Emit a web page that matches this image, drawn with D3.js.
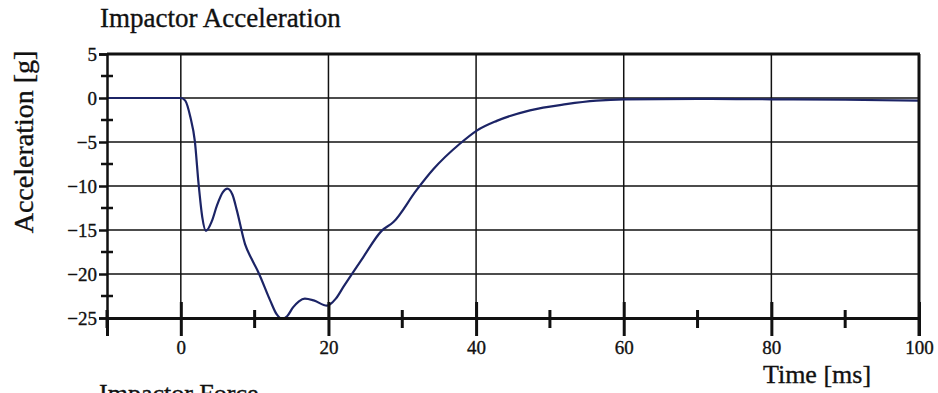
<!DOCTYPE html>
<html><head><meta charset="utf-8">
<script src="https://cdn.jsdelivr.net/npm/d3@7"></script>
<style>
html,body{margin:0;padding:0;background:#fff;}
svg{display:block;}
text{font-family:"Liberation Serif","Times New Roman",serif;fill:#111;stroke:#111;stroke-width:0.35px;}
</style></head>
<body>
<svg id="chart" width="938" height="393"></svg>
<script>
const timeMs = [-10, -5, 0, 0.6, 1.3, 1.9, 2.4, 2.9, 3.4, 4.2, 4.9, 5.7, 6.3, 7.0, 7.6, 8.7, 9.6, 10.5, 12.1, 13.0, 13.7, 14.4, 15.2, 16.0, 16.8, 18.0, 19.8, 21.0, 22.0, 24.7, 27.2, 28.8, 31.9, 34.2, 37.8, 40.1, 42.8, 47.3, 52.2, 56.3, 60, 70, 80, 90, 100];
const accelG = [0, 0, 0, -0.3, -2.2, -4.9, -9.7, -13.5, -15.1, -14.0, -12.2, -10.7, -10.3, -11.0, -12.8, -16.6, -18.3, -19.8, -23.0, -24.6, -25.1, -24.8, -23.8, -23.1, -22.8, -23.0, -23.6, -22.8, -21.5, -18.1, -15.1, -14.1, -10.5, -8.1, -5.2, -3.7, -2.6, -1.4, -0.7, -0.3, -0.15, -0.1, -0.15, -0.2, -0.3];
const yTickValues = [5, 0, -5, -10, -15, -20, -25];
const yMinorValues = [2.5, -2.5, -7.5, -12.5, -17.5, -22.5];
const xTickValues = [0, 20, 40, 60, 80, 100];
const xMinorValues = [-10, 10, 30, 50, 70, 90];
const titleText = "Impactor Acceleration";
const yLabelText = "Acceleration [g]";
const xLabelText = "Time [ms]";
const nextTitleText = "Impactor Force";

const svg = d3.select("#chart");
const x = d3.scaleLinear().domain([-10, 100]).range([107, 919]);
const y = d3.scaleLinear().domain([-25, 5]).range([318, 54]);

// horizontal grid
svg.append("g").selectAll("line").data(yTickValues.filter(v => v !== 5 && v !== -25)).join("line")
  .attr("x1", x(-10)).attr("x2", x(100)).attr("y1", d => y(d)).attr("y2", d => y(d))
  .attr("stroke", "#111").attr("stroke-width", 1.5);
// vertical grid
svg.append("g").selectAll("line").data(xTickValues.filter(v => v !== 100)).join("line")
  .attr("x1", d => x(d)).attr("x2", d => x(d)).attr("y1", y(5)).attr("y2", y(-25))
  .attr("stroke", "#111").attr("stroke-width", 1.5);

// curve
const line = d3.line().x((d, i) => x(timeMs[i])).y(d => y(d)).curve(d3.curveMonotoneX);
svg.append("path").attr("d", line(accelG)).attr("fill", "none")
  .attr("stroke", "#1c2466").attr("stroke-width", 2.2);

// borders
svg.append("line").attr("x1", x(-10)).attr("x2", x(100) + 1).attr("y1", y(5)).attr("y2", y(5)).attr("stroke", "#111").attr("stroke-width", 3);
svg.append("line").attr("x1", x(100)).attr("x2", x(100)).attr("y1", y(5)).attr("y2", y(-25) + 18).attr("stroke", "#111").attr("stroke-width", 3);

// y axis
const yAxis = d3.axisLeft(y).tickValues(yTickValues).tickSize(8).tickPadding(2).tickFormat(d3.format("d"));
const yg = svg.append("g").attr("transform", `translate(${x(-10)},0)`).call(yAxis);
yg.select(".domain").attr("stroke", "#111").attr("stroke-width", 2.5);
yg.selectAll(".tick line").attr("stroke", "#111").attr("stroke-width", 2.5);
yg.selectAll(".tick text").attr("font-size", 19).attr("font-family", "Liberation Serif").attr("fill", "#111").attr("dy", "0.34em");
svg.append("g").selectAll("line").data(yMinorValues).join("line")
  .attr("x1", x(-10) - 6).attr("x2", x(-10) + 6).attr("y1", d => y(d)).attr("y2", d => y(d))
  .attr("stroke", "#111").attr("stroke-width", 2.5);

// x axis
const xAxis = d3.axisBottom(x).tickValues(xTickValues).tickSize(18).tickPadding(5).tickFormat(d3.format("d"));
const xg = svg.append("g").attr("transform", `translate(0,${y(-25)})`).call(xAxis);
xg.select(".domain").attr("stroke", "#111").attr("stroke-width", 3);
xg.selectAll(".tick line").attr("stroke", "#111").attr("stroke-width", 3).attr("y1", -16);
xg.selectAll(".tick text").attr("font-size", 19).attr("font-family", "Liberation Serif").attr("fill", "#111");
svg.append("g").selectAll("line").data(xMinorValues).join("line")
  .attr("x1", d => x(d)).attr("x2", d => x(d)).attr("y1", y(-25) - 8).attr("y2", y(-25) + 10)
  .attr("stroke", "#111").attr("stroke-width", 3);

// texts
svg.append("text").attr("x", 100).attr("y", 27).attr("font-size", 27).text(titleText);
svg.append("text").attr("transform", `translate(33,142) rotate(-90)`).attr("text-anchor", "middle").attr("font-size", 28).text(yLabelText);
svg.append("text").attr("x", 817).attr("y", 383).attr("text-anchor", "middle").attr("font-size", 26).text(xLabelText);
svg.append("text").attr("x", 99).attr("y", 402).attr("font-size", 26).text(nextTitleText);
</script>
</body></html>
